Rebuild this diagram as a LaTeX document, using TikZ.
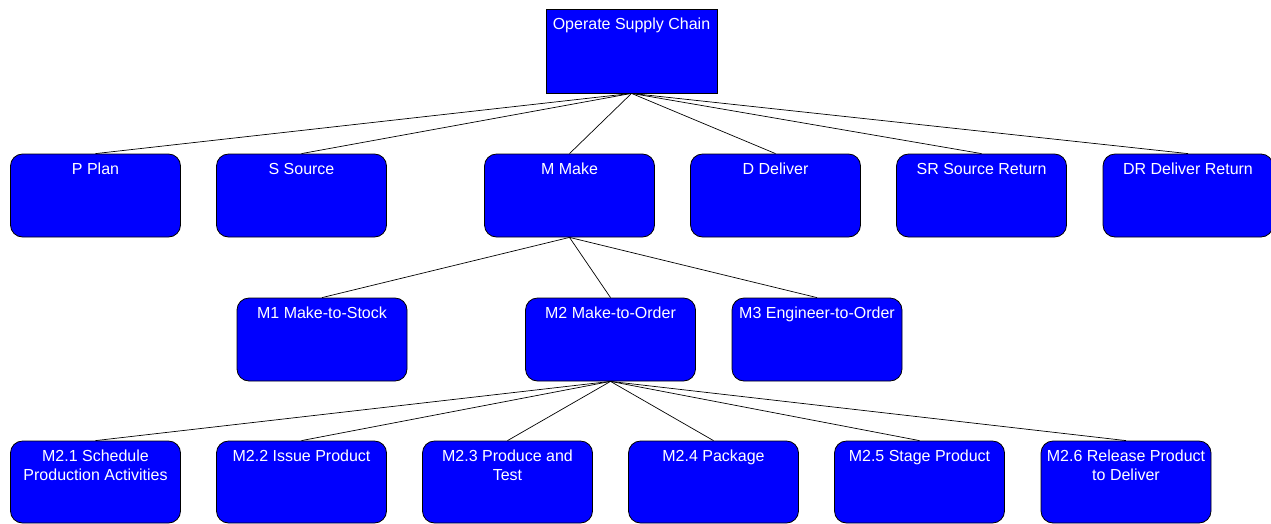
\documentclass[tikz,border=0pt]{standalone}
\usepackage{fontspec}
\setmainfont{Liberation Sans}
\definecolor{boxblue}{RGB}{0,0,255}
\begin{document}
\begin{tikzpicture}[x=1pt,y=-1pt,
  box/.style={draw=black, line width=0.8pt, fill=boxblue, rounded corners=12pt,
    minimum width=170pt, minimum height=83pt, inner sep=0pt},
  rootbox/.style={draw=black, line width=0.8pt, fill=boxblue,
    minimum width=171pt, minimum height=84pt, inner sep=0pt},
  lab/.style={anchor=north, text=white, align=center, inner sep=0pt, yshift=-9.5pt,
    font=\fontsize{16}{19}\selectfont, label distance=0pt},
  conn/.style={draw=black, line width=0.7pt}]
\useasboundingbox (0,0) rectangle (1271,523);
% root
\node[rootbox, label={[lab]north:Operate Supply Chain}] (root) at (631.5,51) {};
% row 1
\node[box, label={[lab]north:P Plan}] (p) at (95.5,195.5) {};
\node[box, label={[lab]north:S Source}] (s) at (301.5,195.5) {};
\node[box, label={[lab]north:M Make}] (m) at (569.5,195.5) {};
\node[box, label={[lab]north:D Deliver}] (d) at (775.5,195.5) {};
\node[box, label={[lab]north:SR Source Return}] (sr) at (981.5,195.5) {};
\node[box, label={[lab]north:DR Deliver Return}] (dr) at (1188,195.5) {};
% row 2
\node[box, label={[lab]north:M1 Make-to-Stock}] (m1) at (322,339.5) {};
\node[box, label={[lab]north:M2 Make-to-Order}] (m2) at (610.5,339.5) {};
\node[box, label={[lab]north:M3 Engineer-to-Order}] (m3) at (817,339.5) {};
% row 3
\node[box, minimum height=82pt, label={[lab]north:M2.1 Schedule\\Production Activities}] (m21) at (95.5,482) {};
\node[box, minimum height=82pt, label={[lab]north:M2.2 Issue Product}] (m22) at (301.5,482) {};
\node[box, minimum height=82pt, label={[lab]north:M2.3 Produce and\\Test}] (m23) at (507.5,482) {};
\node[box, minimum height=82pt, label={[lab]north:M2.4 Package}] (m24) at (713.5,482) {};
\node[box, minimum height=82pt, label={[lab]north:M2.5 Stage Product}] (m25) at (919.5,482) {};
\node[box, minimum height=82pt, label={[lab]north:M2.6 Release Product\\to Deliver}] (m26) at (1126,482) {};
% connectors
\foreach \c in {p,s,m,d,sr,dr} \draw[conn] (root.south) -- (\c.north);
\foreach \c in {m1,m2,m3} \draw[conn] (m.south) -- (\c.north);
\foreach \c in {m21,m22,m23,m24,m25,m26} \draw[conn] (m2.south) -- (\c.north);
\end{tikzpicture}
\end{document}
